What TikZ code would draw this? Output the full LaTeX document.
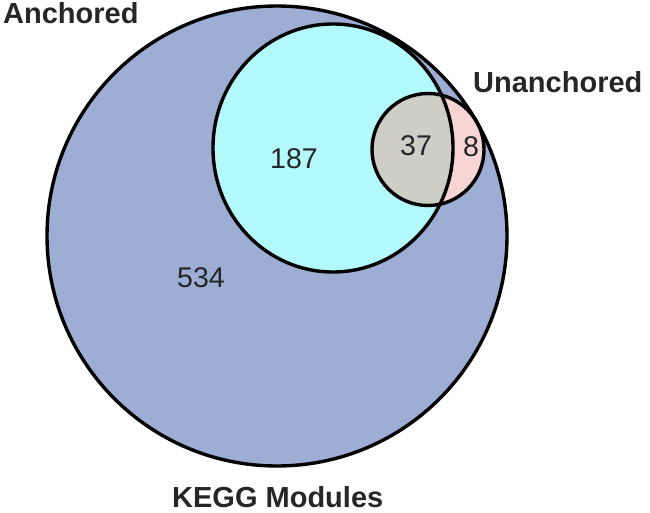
\documentclass[tikz,border=0pt]{standalone}
\usepackage{fontspec}
\setmainfont{Liberation Sans}
\definecolor{kegg}{HTML}{9EADD3}
\definecolor{anch}{HTML}{B3F8FB}
\definecolor{both}{HTML}{CFCEC6}
\definecolor{unan}{HTML}{F8D5D5}
\definecolor{txt}{HTML}{262628}
\begin{document}
\begin{tikzpicture}[x=1pt,y=-1pt,
  setline/.style={draw=black,line width=3.4pt},
  title/.style={font=\fontsize{29}{34}\selectfont\bfseries,text=txt,inner sep=0pt},
  count/.style={font=\fontsize{28.5}{33}\selectfont,text=txt,inner sep=0pt}]
\useasboundingbox (0,0) rectangle (650,513);
% fills
\fill[kegg] (277,236) circle[radius=230];
\fill[anch] (333,148) circle[x radius=120,y radius=124];
\fill[unan] (428,149.5) circle[radius=56];
\begin{scope}
  \clip (333,148) circle[x radius=120,y radius=124];
  \fill[both] (428,149.5) circle[radius=56];
\end{scope}
% outlines
\node[setline,circle,minimum size=460pt,inner sep=0pt] (kegg) at (277,236) {};
\draw[setline] (333,148) circle[x radius=120,y radius=124];
\coordinate (anchc) at (333,148);
\node[setline,circle,minimum size=112pt,inner sep=0pt] (unanc) at (428,149.5) {};
% labels
\node[title,anchor=base west] (lanch) at (3,24) {Anchored};
\node[title,anchor=base west] (lunan) at (473,93) {Unanchored};
\node[title,anchor=base west] (lkegg) at (172,507.5) {KEGG Modules};
\node[count] (n534) at (201,278) {534};
\node[count] (n187) at (294,159) {187};
\node[count] (n37) at (416,145.5) {37};
\node[count] (n8) at (471,146.5) {8};
\end{tikzpicture}
\end{document}
